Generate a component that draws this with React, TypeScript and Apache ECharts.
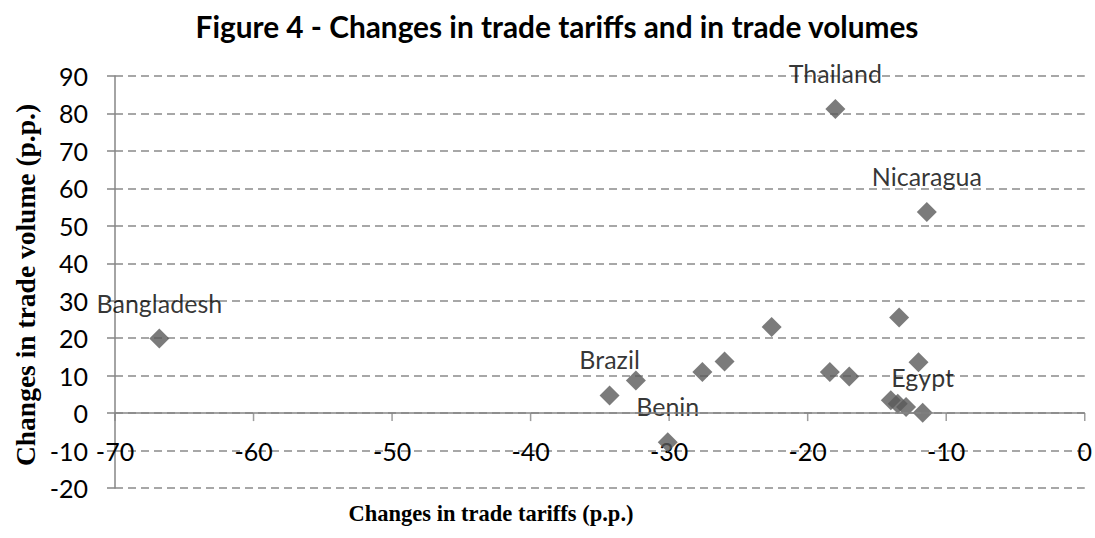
import React, { useEffect, useRef } from "react";
import * as echarts from "echarts";

const tariffChange = [-66.8, -34.3, -32.4, -30.1, -27.6, -26.0, -22.6, -18.4, -17.0, -18.0, -11.4, -13.4, -12.0, -14.0, -13.5, -12.9, -11.7];
const volumeChange = [19.9, 4.7, 8.7, -7.8, 11.0, 13.8, 23.0, 11.0, 9.8, 81.2, 53.7, 25.5, 13.6, 3.4, 2.5, 1.6, 0.1];
const pointLabels = ["Bangladesh", "Brazil", "", "Benin", "", "", "", "", "", "Thailand", "Nicaragua", "", "", "", "", "", "Egypt"];

const xTicks = [-70, -60, -50, -40, -30, -20, -10, 0];

const titleText = "Figure 4 - Changes in trade tariffs and in trade volumes";
const xName = "Changes in trade tariffs (p.p.)";
const yName = "Changes in trade volume (p.p.)";

export default function App() {
  const ref = useRef<HTMLDivElement>(null);
  useEffect(() => {
    if (!ref.current) return;
    const chart = echarts.init(ref.current, null, { renderer: "svg" });
    const axisColor = "#868686";
    const data = tariffChange.map((x, i) => ({
      value: [x, volumeChange[i]],
      name: pointLabels[i],
      label: { show: pointLabels[i] !== "" },
    }));
    chart.setOption({
      animation: false,
      backgroundColor: "#ffffff",
      grid: { left: 115, right: 8, top: 76, bottom: 50, containLabel: false },
      xAxis: {
        type: "value",
        min: -70,
        max: 0,
        interval: 10,
        position: "bottom",
        axisLine: { show: false },
        axisTick: { show: false },
        axisLabel: {
          margin: -37,
          verticalAlign: "middle",
          fontFamily: "Lato",
          fontSize: 25,
          color: "#000",
        },
        splitLine: { show: false },
      },
      yAxis: {
        type: "value",
        min: -20,
        max: 90,
        interval: 10,
        position: "left",
        axisLine: { show: true, onZero: false, lineStyle: { color: axisColor, width: 1.5 } },
        axisTick: { show: true, length: 8, inside: false, lineStyle: { color: axisColor, width: 1.5 } },
        axisLabel: { margin: 27, fontFamily: "Lato", fontSize: 25, color: "#000" },
        splitLine: { show: true, lineStyle: { color: "#8a8a8a", width: 1.5, type: [8, 5] } },
      },
      series: [
        {
          type: "scatter",
          silent: true,
          symbol: "rect",
          symbolSize: [1.5, 8],
          symbolOffset: [0, 4],
          itemStyle: { color: axisColor },
          data: xTicks.map((v) => [v, 0]),
          z: 1,
          markLine: {
            silent: true,
            symbol: ["none", "none"],
            label: { show: false },
            lineStyle: { color: axisColor, width: 1.5, type: "solid" },
            data: [{ yAxis: 0 }],
          },
        },
        {
          type: "scatter",
          symbol: "diamond",
          symbolSize: 20,
          itemStyle: { color: "#5a5a5a" },
          data,
          z: 3,
          label: {
            position: "inside",
            offset: [0, -36],
            formatter: "{b}",
            fontFamily: "Lato",
            fontSize: 25,
            color: "#000",
          },
        },
      ],
      graphic: [
        {
          type: "text",
          x: 557,
          y: 26,
          style: {
            text: titleText,
            fontFamily: "Lato",
            fontWeight: "bold",
            fontSize: 29.8,
            fill: "#000",
            align: "center",
            verticalAlign: "middle",
          },
        },
        {
          type: "text",
          x: 491,
          y: 513,
          style: {
            text: xName,
            fontFamily: "Liberation Serif",
            fontWeight: "bold",
            fontSize: 22.5,
            fill: "#000",
            align: "center",
            verticalAlign: "middle",
          },
        },
        {
          type: "text",
          x: 25,
          y: 285,
          rotation: Math.PI / 2,
          style: {
            text: yName,
            fontFamily: "Liberation Serif",
            fontWeight: "bold",
            fontSize: 27.5,
            fill: "#000",
            align: "center",
            verticalAlign: "middle",
          },
        },
      ],
    });
    return () => chart.dispose();
  }, []);
  return (
    <div
      ref={ref}
      style={{ position: "fixed", left: 0, top: 0, width: 1095, height: 538 }}
    />
  );
}
